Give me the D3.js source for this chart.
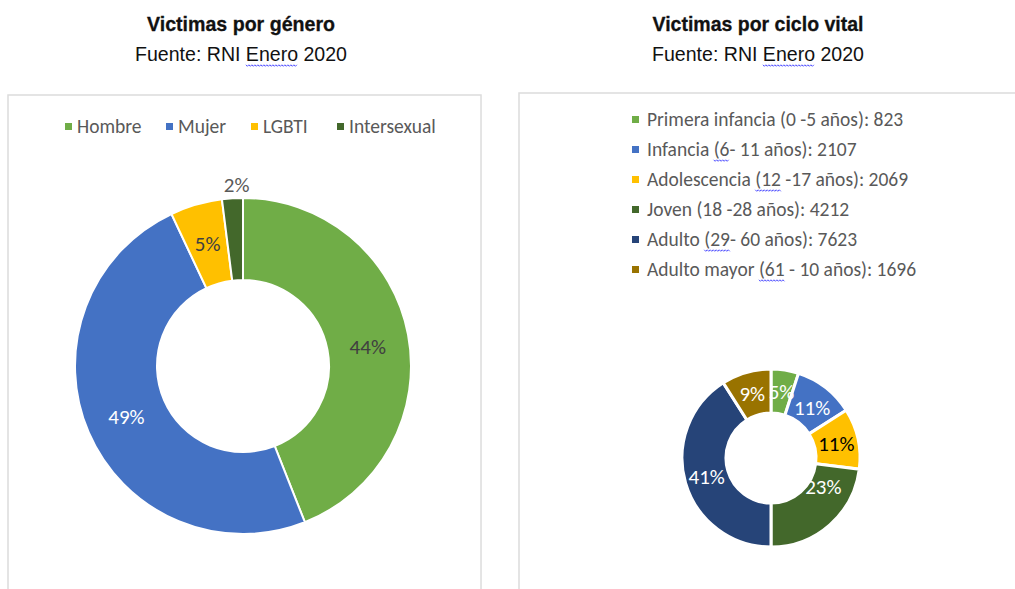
<!DOCTYPE html>
<html>
<head>
<meta charset="utf-8">
<script src="https://cdn.jsdelivr.net/npm/d3@7"></script>
<style>
  body { margin: 0; background: #fff; }
  svg { display: block; }
</style>
</head>
<body>
<script>
const genderCategories = ['Hombre', 'Mujer', 'LGBTI', 'Intersexual']
const genderPercents = [44, 49, 5, 2]

const lifeCategories = [
  'Primera infancia (0 -5 años)',
  'Infancia (6- 11 años)',
  'Adolescencia (12 -17 años)',
  'Joven (18 -28 años)',
  'Adulto (29- 60 años)',
  'Adulto mayor (61 - 10 años)'
]
const lifeCounts = [823, 2107, 2069, 4212, 7623, 1696]
const lifePercents = [5, 11, 11, 23, 41, 9]

const genderColors = ['#70AD47', '#4472C4', '#FFC000', '#43682B']
const lifeColors = ['#70AD47', '#4472C4', '#FFC000', '#43682B', '#264478', '#997300']

const TITLE_FONT = '"Liberation Sans Narrow", "Arial Narrow", "Liberation Sans", Arial, sans-serif'
const BODY_FONT = 'Carlito, Calibri, Lato, "Open Sans", sans-serif'

const svg = d3.select('body').append('svg')
  .attr('width', 1015)
  .attr('height', 589)

// wavy spell-check underline below part of a text element
const squiggle = (textNode, from, count) => {
  const start = textNode.getStartPositionOfChar(from)
  const width = textNode.getSubStringLength(from, count)
  const y = start.y + 4
  const pts = []
  for (let x = 0; x <= width; x += 1.5) {
    pts.push([start.x + x, y + ((Math.round(x / 1.5) % 2) ? 1.3 : -0.2)])
  }
  svg.append('path')
    .attr('d', d3.line()(pts))
    .attr('fill', 'none')
    .attr('stroke', '#3b3bff')
    .attr('stroke-width', 0.9)
}

const buildHeader = ({ cx, title, titleWidth, subWidth }) => {
  svg.append('text')
    .attr('x', cx).attr('y', 31)
    .attr('text-anchor', 'middle')
    .attr('font-family', TITLE_FONT)
    .attr('font-weight', 'bold')
    .attr('font-size', 21)
    .attr('fill', '#111')
    .attr('stroke', '#111')
    .attr('stroke-width', 0.3)
    .attr('textLength', titleWidth)
    .attr('lengthAdjust', 'spacingAndGlyphs')
    .text(title)
  const sub = svg.append('text')
    .attr('x', cx).attr('y', 61)
    .attr('text-anchor', 'middle')
    .attr('font-family', TITLE_FONT)
    .attr('font-size', 21)
    .attr('fill', '#111')
    .attr('textLength', subWidth)
    .attr('lengthAdjust', 'spacingAndGlyphs')
    .text('Fuente: RNI Enero 2020')
  squiggle(sub.node(), 12, 5)
}

const buildBox = (x, y, w, h) => {
  svg.append('rect')
    .attr('x', x).attr('y', y)
    .attr('width', w).attr('height', h)
    .attr('fill', 'none')
    .attr('stroke', '#dcdcdc')
    .attr('stroke-width', 1.5)
}

const buildDonut = ({
  cx, cy, outer, inner, values, colors, labelColors, labelShift = {}, strokeWidth = 2
}) => {
  const pie = d3.pie().sort(null).value(d => d)
  const arc = d3.arc().innerRadius(inner).outerRadius(outer)
  const labelArc = d3.arc().innerRadius((outer + inner) / 2).outerRadius((outer + inner) / 2)
  const outsideArc = d3.arc().innerRadius(outer + 14).outerRadius(outer + 14)
  const arcs = pie(values)

  const g = svg.append('g').attr('transform', `translate(${cx},${cy})`)
  g.selectAll('path')
    .data(arcs)
    .enter()
    .append('path')
    .attr('d', arc)
    .attr('fill', (d, i) => colors[i])
    .attr('stroke', '#fff')
    .attr('stroke-width', strokeWidth)

  g.selectAll('text')
    .data(arcs)
    .enter()
    .append('text')
    .attr('transform', (d, i) => {
      const small = d.data < 3
      const [x, y] = (small ? outsideArc : labelArc).centroid(d)
      const [dx, dy] = labelShift[i] || [0, 0]
      return `translate(${x + dx},${y + dy})`
    })
    .attr('text-anchor', 'middle')
    .attr('dy', '0.35em')
    .attr('font-family', BODY_FONT)
    .attr('font-size', 21)
    .attr('fill', (d, i) => labelColors[i])
    .text(d => `${d.data}%`)
}

// left chart
buildHeader({ cx: 241, title: 'Victimas por género', titleWidth: 188, subWidth: 212 })
buildBox(8, 95, 473, 520)

const leftLegend = svg.append('g').attr('font-family', BODY_FONT).attr('font-size', 19.5)
const leftX = [65, 166, 251, 337]
genderCategories.forEach((name, i) => {
  leftLegend.append('rect')
    .attr('x', leftX[i]).attr('y', 123)
    .attr('width', 7).attr('height', 7)
    .attr('fill', genderColors[i])
  leftLegend.append('text')
    .attr('x', leftX[i] + 12).attr('y', 133)
    .attr('fill', '#595959')
    .text(name)
})

buildDonut({
  cx: 243, cy: 366, outer: 168, inner: 86,
  values: genderPercents,
  colors: genderColors,
  labelColors: ['#404040', '#ffffff', '#404040', '#595959'],
  labelShift: { 3: [5, 0], 0: [0, 4] }
})

// right chart
buildHeader({ cx: 758, title: 'Victimas por ciclo vital', titleWidth: 211, subWidth: 212 })
buildBox(519, 93, 520, 520)

const rightLegend = svg.append('g').attr('font-family', BODY_FONT).attr('font-size', 19.5)
const rowY = d3.scalePoint().domain(d3.range(lifeCategories.length)).range([119, 269])
lifeCategories.forEach((name, i) => {
  rightLegend.append('rect')
    .attr('x', 632).attr('y', rowY(i) - 3)
    .attr('width', 7).attr('height', 7)
    .attr('fill', lifeColors[i])
  const t = rightLegend.append('text')
    .attr('x', 647).attr('y', rowY(i) + 7)
    .attr('fill', '#595959')
    .text(`${name}: ${lifeCounts[i]}`)
  const open = name.indexOf('(')
  if (i >= 1 && i !== 3) {
    const len = name.slice(open + 1).search(/[^0-9]/) + 1
    squiggle(t.node(), open, len)
  }
})

buildDonut({
  cx: 771, cy: 458, outer: 89, inner: 45,
  values: lifePercents,
  colors: lifeColors,
  labelColors: ['#ffffff', '#ffffff', '#000000', '#ffffff', '#ffffff', '#ffffff'],
  labelShift: { 3: [8, -22], 1: [0, 3] },
  strokeWidth: 3
})
</script>
</body>
</html>
